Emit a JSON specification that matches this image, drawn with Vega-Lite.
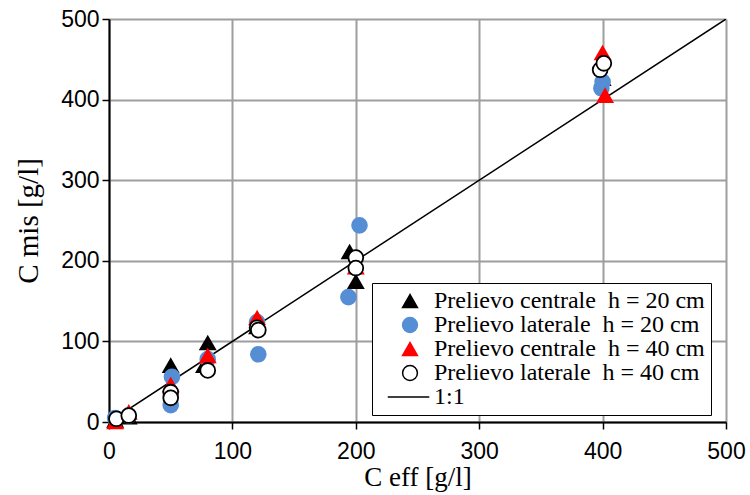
{
  "$schema": "https://vega.github.io/schema/vega-lite/v6.json",
  "width": 617,
  "height": 403,
  "autosize": {"type": "none"},
  "padding": {"left": 109, "top": 19, "right": 24, "bottom": 73},
  "background": "white",
  "config": {
    "view": {"stroke": null},
    "axis": {
      "grid": true, "gridColor": "#9e9e9e", "gridWidth": 2,
      "domainColor": "black", "domainWidth": 2,
      "tickColor": "black", "tickWidth": 1.5, "tickSize": 7,
      "labelFont": "Liberation Sans", "labelFontSize": 23, "labelColor": "black", "labelFlush": false,
      "titleFont": "Liberation Serif", "titleFontSize": 27, "titleFontWeight": "normal", "titleColor": "black",
      "labelPadding": 5
    },
    "legend": {"labelFont": "Liberation Serif", "labelFontSize": 24, "labelColor": "black"}
  },
  "layer": [
    {
      "data": {"values": [{"x": 0, "y": 0}, {"x": 500, "y": 500}]},
      "mark": {"type": "line", "color": "black", "strokeWidth": 1.5, "clip": true},
      "encoding": {
        "x": {"field": "x", "type": "quantitative", "scale": {"domain": [0, 500], "nice": false},
              "axis": {"values": [0, 100, 200, 300, 400, 500], "title": "C eff [g/l]", "titlePadding": 1, "labelPadding": 11}},
        "y": {"field": "y", "type": "quantitative", "scale": {"domain": [0, 500], "nice": false},
              "axis": {"values": [0, 100, 200, 300, 400, 500], "title": "C mis [g/l]", "titlePadding": 17, "titleFontSize": 29, "labelPadding": 3}}
      }
    },
    {
      "data": {"values": [
        {"x": 5, "y": 2, "s": "c20"}, {"x": 16, "y": 6, "s": "c20"}, {"x": 50, "y": 70, "s": "c20"},
        {"x": 80, "y": 98, "s": "c20"}, {"x": 77, "y": 70, "s": "c20"}, {"x": 120, "y": 118, "s": "c20"},
        {"x": 195, "y": 211, "s": "c20"}, {"x": 200, "y": 174, "s": "c20"}, {"x": 400, "y": 426, "s": "c20"},
        {"x": 5, "y": 5, "s": "l20"}, {"x": 16, "y": 8, "s": "l20"}, {"x": 51, "y": 56, "s": "l20"},
        {"x": 50, "y": 21, "s": "l20"}, {"x": 80, "y": 78, "s": "l20"}, {"x": 120, "y": 124, "s": "l20"},
        {"x": 121, "y": 84, "s": "l20"}, {"x": 194, "y": 155, "s": "l20"}, {"x": 203, "y": 244, "s": "l20"},
        {"x": 400, "y": 422, "s": "l20"}, {"x": 399, "y": 414, "s": "l20"},
        {"x": 5, "y": 0, "s": "c40"}, {"x": 16, "y": 12, "s": "c40"}, {"x": 50, "y": 46, "s": "c40"},
        {"x": 80, "y": 82, "s": "c40"}, {"x": 120, "y": 129, "s": "c40"}, {"x": 200, "y": 192, "s": "c40"},
        {"x": 400, "y": 458, "s": "c40"}, {"x": 402, "y": 405, "s": "c40"},
        {"x": 6, "y": 4, "s": "l40"}, {"x": 16, "y": 8, "s": "l40"}, {"x": 50, "y": 37, "s": "l40"},
        {"x": 50, "y": 30, "s": "l40"}, {"x": 80, "y": 64, "s": "l40"}, {"x": 120, "y": 117, "s": "l40"},
        {"x": 121, "y": 114, "s": "l40"}, {"x": 200, "y": 204, "s": "l40"}, {"x": 200, "y": 191, "s": "l40"},
        {"x": 398, "y": 437, "s": "l40"}, {"x": 401, "y": 445, "s": "l40"}
      ]},
      "mark": {"type": "point", "filled": false, "strokeWidth": 1.8, "opacity": 1, "size": 220},
      "encoding": {
        "x": {"field": "x", "type": "quantitative"},
        "y": {"field": "y", "type": "quantitative"},
        "shape": {"field": "s", "type": "nominal",
          "scale": {"domain": ["c20", "l20", "c40", "l40", "one"], "range": ["triangle-up", "circle", "triangle-up", "circle", "M-3,0H2.6"]},
          "legend": {"title": null}},
        "fill": {"field": "s", "type": "nominal",
          "scale": {"domain": ["c20", "l20", "c40", "l40", "one"], "range": ["black", "#558ED5", "#FF0000", "white", "black"]},
          "legend": {"title": null}},
        "stroke": {"field": "s", "type": "nominal",
          "scale": {"domain": ["c20", "l20", "c40", "l40", "one"], "range": ["black", "#558ED5", "#FF0000", "black", "black"]},
          "legend": {
            "title": null, "orient": "none", "legendX": 263, "legendY": 264,
            "strokeColor": "black", "fillColor": "white", "padding": 6,
            "labelFont": "Liberation Serif", "labelFontSize": 24, "labelColor": "black", "labelLimit": 400,
            "symbolStrokeWidth": 1.5, "symbolSize": 220, "symbolOffset": 20, "labelOffset": 12, "rowPadding": 0,
            "labelExpr": "datum.label == 'c20' ? 'Prelievo centrale \u00a0h = 20 cm' : datum.label == 'l20' ? 'Prelievo laterale \u00a0h = 20 cm' : datum.label == 'c40' ? 'Prelievo centrale \u00a0h = 40 cm' : datum.label == 'l40' ? 'Prelievo laterale \u00a0h = 40 cm' : '1:1'"
          }}
      }
    }
  ]
}
